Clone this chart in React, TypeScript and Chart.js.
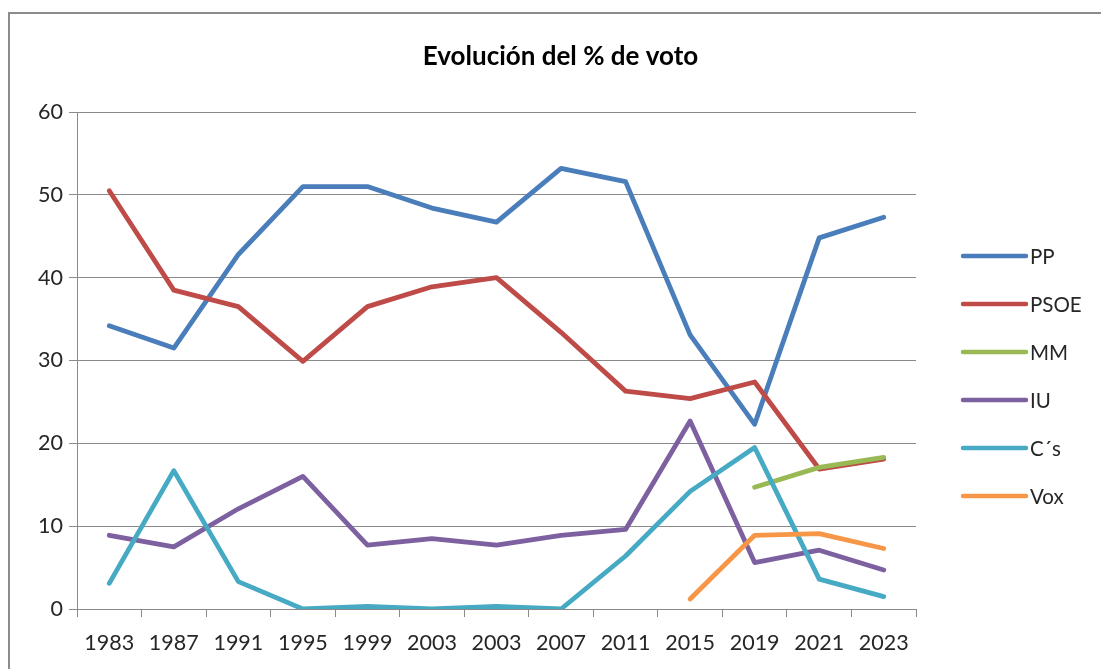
import React, { useEffect, useRef } from "react";
import { Chart, registerables } from "chart.js";

Chart.register(...registerables);

const categories = ["1983", "1987", "1991", "1995", "1999", "2003", "2003", "2007", "2011", "2015", "2019", "2021", "2023"];
const ppValues = [34.2, 31.5, 42.8, 51.0, 51.0, 48.4, 46.7, 53.2, 51.6, 33.1, 22.3, 44.8, 47.3];
const psoeValues = [50.5, 38.5, 36.5, 29.9, 36.5, 38.9, 40.0, 33.4, 26.3, 25.4, 27.4, 16.9, 18.1];
const mmValues = [null, null, null, null, null, null, null, null, null, null, 14.7, 17.1, 18.3];
const iuValues = [8.9, 7.5, 12.1, 16.0, 7.7, 8.5, 7.7, 8.9, 9.6, 22.7, 5.6, 7.1, 4.7];
const csValues = [3.1, 16.7, 3.3, 0.0, 0.3, 0.0, 0.3, 0.0, 6.4, 14.2, 19.5, 3.6, 1.5];
const voxValues = [null, null, null, null, null, null, null, null, null, 1.2, 8.9, 9.1, 7.3];
const seriesNames = ["PP", "PSOE", "MM", "IU", "C´s", "Vox"];
const seriesColors = ["#4A7EBB", "#BE4B48", "#98B954", "#7D60A0", "#46AAC5", "#F79646"];
const yTicks = [0, 10, 20, 30, 40, 50, 60];
const titleText = "Evolución del % de voto";

const FONT = "Lato, 'Open Sans', sans-serif";
const GRID = "#8a8a8a";
const TEXT = "#262626";

export default function App() {
  const ref = useRef<HTMLCanvasElement | null>(null);

  useEffect(() => {
    document.body.style.margin = "0";
    const canvas = ref.current;
    if (!canvas) return;

    const frame = {
      id: "frame",
      beforeDraw(chart: any) {
        const ctx = chart.ctx;
        ctx.save();
        ctx.fillStyle = "#ffffff";
        ctx.fillRect(0, 0, chart.width, chart.height);
        ctx.strokeStyle = "#8c8c8c";
        ctx.lineWidth = 2;
        ctx.beginPath();
        ctx.moveTo(9, chart.height);
        ctx.lineTo(9, 13);
        ctx.lineTo(chart.width, 13);
        ctx.stroke();
        ctx.fillStyle = "#000000";
        ctx.font = `bold 26px ${FONT}`;
        ctx.textAlign = "center";
        ctx.textBaseline = "middle";
        ctx.fillText(titleText, chart.width / 2 + 10, 57);
        ctx.restore();
      },
    };

    const legend = {
      id: "sideLegend",
      afterDraw(chart: any) {
        const ctx = chart.ctx;
        const x0 = chart.chartArea.right + 47;
        ctx.save();
        chart.data.datasets.forEach((ds: any, i: number) => {
          const y = 256 + i * 48;
          ctx.strokeStyle = ds.borderColor;
          ctx.lineWidth = 4.5;
          ctx.lineCap = "round";
          ctx.beginPath();
          ctx.moveTo(x0, y);
          ctx.lineTo(x0 + 63, y);
          ctx.stroke();
          ctx.fillStyle = TEXT;
          ctx.font = `20.5px ${FONT}`;
          ctx.textBaseline = "middle";
          ctx.textAlign = "left";
          ctx.fillText(ds.label, x0 + 67, y + 1);
        });
        ctx.restore();
      },
    };

    const allValues = [ppValues, psoeValues, mmValues, iuValues, csValues, voxValues];

    const chart = new Chart(canvas, {
      type: "line",
      data: {
        labels: categories,
        datasets: allValues.map((vals, i) => ({
          label: seriesNames[i],
          data: vals,
          borderColor: seriesColors[i],
          backgroundColor: seriesColors[i],
          borderWidth: 4.8,
          pointRadius: 0,
          pointHoverRadius: 0,
          tension: 0,
          fill: false,
          spanGaps: false,
          borderJoinStyle: "round",
          borderCapStyle: "round",
          order: allValues.length - i,
        })),
      },
      options: {
        responsive: false,
        animation: false,
        layout: { padding: { left: 0, top: 112, right: 185, bottom: 0 } },
        plugins: {
          legend: { display: false },
          tooltip: { enabled: false },
          title: { display: false },
        },
        scales: {
          x: {
            type: "category",
            offset: true,
            afterFit(scale: any) {
              scale.height = 60;
            },
            grid: {
              offset: true,
              drawOnChartArea: false,
              drawTicks: true,
              tickLength: 8,
              color: GRID,
              lineWidth: 1,
            },
            border: { display: true, color: GRID, width: 1 },
            ticks: {
              color: TEXT,
              font: { family: FONT, size: 21.5 },
              padding: 13,
              maxRotation: 0,
              autoSkip: false,
            },
          },
          y: {
            min: 0,
            max: 60,
            afterFit(scale: any) {
              scale.width = 77;
            },
            afterBuildTicks(scale: any) {
              scale.ticks = yTicks.map((v) => ({ value: v }));
            },
            grid: {
              color: GRID,
              lineWidth: 1,
              drawTicks: true,
              tickLength: 8,
            },
            border: { display: true, color: GRID, width: 1 },
            ticks: {
              color: TEXT,
              font: { family: FONT, size: 21.5 },
              padding: 6,
            },
          },
        },
      },
      plugins: [frame, legend],
    } as any);

    return () => {
      chart.destroy();
    };
  }, []);

  return <canvas ref={ref} width={1101} height={669} style={{ display: "block" }} />;
}
